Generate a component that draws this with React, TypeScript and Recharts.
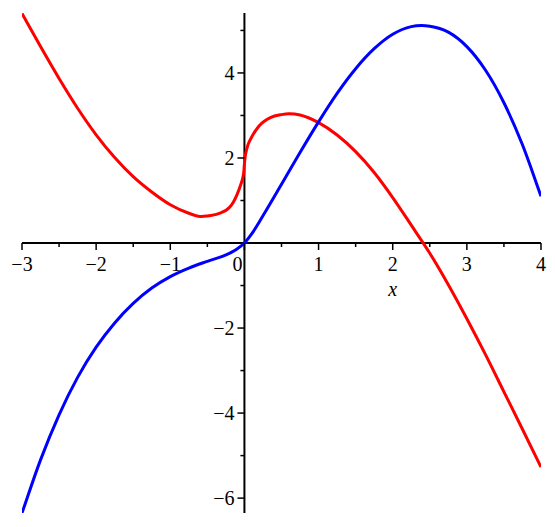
import { LineChart, Line, XAxis, YAxis, ReferenceLine, ReferenceDot } from "recharts";

// red curve
const redX = [
  -3, -2.75, -2.5, -2.25, -2, -1.75, -1.5, -1.25, -1, -0.75, -0.6, -0.5, -0.35, -0.2, -0.15, -0.1, -0.05, -0.02,
  -0.01, 0, 0.01, 0.02, 0.05, 0.1, 0.2, 0.35, 0.5, 0.6, 0.75, 1, 1.25, 1.5, 1.75, 2, 2.25, 2.5, 2.75, 3,
  3.25, 3.5, 3.75, 4,
];
const redY = [
  5.4, 4.62, 3.87, 3.17, 2.545, 2.01, 1.56, 1.2, 0.9, 0.7, 0.625, 0.635, 0.69, 0.84, 0.96, 1.14, 1.37, 1.55,
  1.65, 1.86, 2.03, 2.13, 2.32, 2.5, 2.76, 2.95, 3.02, 3.04, 3.01, 2.83, 2.54, 2.15, 1.66, 1.07, 0.42,
  -0.24, -0.98, -1.78, -2.62, -3.5, -4.38, -5.27,
];

// blue curve
const blueX = [
  -3, -2.75, -2.5, -2.25, -2, -1.75, -1.5, -1.25, -1, -0.75, -0.5, -0.25, -0.1, 0, 0.1, 0.25, 0.5, 0.75, 1,
  1.25, 1.5, 1.75, 2, 2.25, 2.5, 2.75, 3, 3.25, 3.5, 3.75, 4,
];
const blueY = [
  -6.35, -5.1, -4.04, -3.16, -2.45, -1.88, -1.42, -1.06, -0.79, -0.59, -0.43, -0.28, -0.14, 0, 0.22, 0.64,
  1.38, 2.13, 2.85, 3.52, 4.1, 4.57, 4.91, 5.09, 5.1, 4.96, 4.62, 4.07, 3.3, 2.31, 1.1,
];

const xMajorTicks = [-3, -2, -1, 0, 1, 2, 3, 4];
const xMinorTicks = [-2.5, -1.5, -0.5, 0.5, 1.5, 2.5, 3.5];
const yMajorTicks = [-6, -4, -2, 2, 4];
const yMinorTicks = [-5, -3, -1, 1, 3, 5];
const xDomain = [-3, 4];
const yDomain = [-6.35, 5.41];
const xAxisName = "x";

const redData = redX.map((x, i) => ({ x, y: redY[i] }));
const blueData = blueX.map((x, i) => ({ x, y: blueY[i] }));

const FONT = "'Liberation Serif', 'Times New Roman', 'DejaVu Serif', serif";
const fmt = (v: number) => (v < 0 ? `\u2212${-v}` : `${v}`);

// smooth cubic through the points, tangents from neighbouring secants
const smoothCurve = (context: any) => {
  let xs: number[] = [];
  let ys: number[] = [];
  return {
    areaStart() {},
    areaEnd() {},
    lineStart() {
      xs = [];
      ys = [];
    },
    point(x: number, y: number) {
      xs.push(+x);
      ys.push(+y);
    },
    lineEnd() {
      const n = xs.length;
      if (!n) return;
      context.moveTo(xs[0], ys[0]);
      if (n === 1) return;
      const s: number[] = [];
      for (let i = 0; i < n - 1; i++) s.push((ys[i + 1] - ys[i]) / (xs[i + 1] - xs[i]));
      const m: number[] = [s[0]];
      for (let i = 1; i < n - 1; i++) {
        const h0 = xs[i] - xs[i - 1];
        const h1 = xs[i + 1] - xs[i];
        m.push((h1 * s[i - 1] + h0 * s[i]) / (h0 + h1));
      }
      m.push(s[n - 2]);
      for (let i = 0; i < n - 1; i++) {
        const h = xs[i + 1] - xs[i];
        context.bezierCurveTo(
          xs[i] + h / 3,
          ys[i] + (m[i] * h) / 3,
          xs[i + 1] - h / 3,
          ys[i + 1] - (m[i + 1] * h) / 3,
          xs[i + 1],
          ys[i + 1]
        );
      }
    },
  };
};

const xTickShape = (v: number, major: boolean) => (props: any) => {
  const { cx, cy } = props;
  return (
    <g>
      <line x1={cx} y1={cy} x2={cx} y2={cy + (major ? 7 : 4)} stroke="#000" strokeWidth={1.5} />
      {major && (
        <text
          x={v === 0 ? cx - 7 : cx}
          y={cy + 28}
          textAnchor="middle"
          style={{ fontFamily: FONT, fontSize: 20 }}
          fill="#000"
        >
          {fmt(v)}
        </text>
      )}
    </g>
  );
};

const yTickShape = (v: number, major: boolean) => (props: any) => {
  const { cx, cy } = props;
  return (
    <g>
      <line x1={cx} y1={cy} x2={cx - (major ? 7 : 4)} y2={cy} stroke="#000" strokeWidth={1.5} />
      {major && (
        <text x={cx - 10} y={cy + 7} textAnchor="end" style={{ fontFamily: FONT, fontSize: 20 }} fill="#000">
          {fmt(v)}
        </text>
      )}
    </g>
  );
};

const axisNameShape = (props: any) => {
  const { cx, cy } = props;
  return (
    <text
      x={cx}
      y={cy + 53}
      textAnchor="middle"
      style={{ fontFamily: FONT, fontSize: 20, fontStyle: "italic" }}
      fill="#000"
    >
      {xAxisName}
    </text>
  );
};

export default function App() {
  return (
    <div style={{ position: "absolute", left: 0, top: 0, width: 555, height: 527, background: "#fff" }}>
      <LineChart width={555} height={527} margin={{ top: 13, right: 14, bottom: 14, left: 22 }}>
        <XAxis type="number" dataKey="x" domain={xDomain} hide allowDataOverflow />
        <YAxis type="number" dataKey="y" domain={yDomain} hide allowDataOverflow />
        <ReferenceLine x={0} stroke="#000" strokeWidth={2} />
        <ReferenceLine y={0} stroke="#000" strokeWidth={2} />
        {xMajorTicks.map((t) => (
          <ReferenceDot key={`xM${t}`} x={t} y={0} r={0} ifOverflow="visible" shape={xTickShape(t, true)} />
        ))}
        {xMinorTicks.map((t) => (
          <ReferenceDot key={`xm${t}`} x={t} y={0} r={0} ifOverflow="visible" shape={xTickShape(t, false)} />
        ))}
        {yMajorTicks.map((t) => (
          <ReferenceDot key={`yM${t}`} x={0} y={t} r={0} ifOverflow="visible" shape={yTickShape(t, true)} />
        ))}
        {yMinorTicks.map((t) => (
          <ReferenceDot key={`ym${t}`} x={0} y={t} r={0} ifOverflow="visible" shape={yTickShape(t, false)} />
        ))}
        <ReferenceDot x={2} y={0} r={0} ifOverflow="visible" shape={axisNameShape} />
        <Line
          data={redData}
          dataKey="y"
          type={smoothCurve as any}
          stroke="#ff0000"
          strokeWidth={3}
          dot={false}
          isAnimationActive={false}
        />
        <Line
          data={blueData}
          dataKey="y"
          type={smoothCurve as any}
          stroke="#0000ff"
          strokeWidth={3}
          dot={false}
          isAnimationActive={false}
        />
      </LineChart>
    </div>
  );
}
